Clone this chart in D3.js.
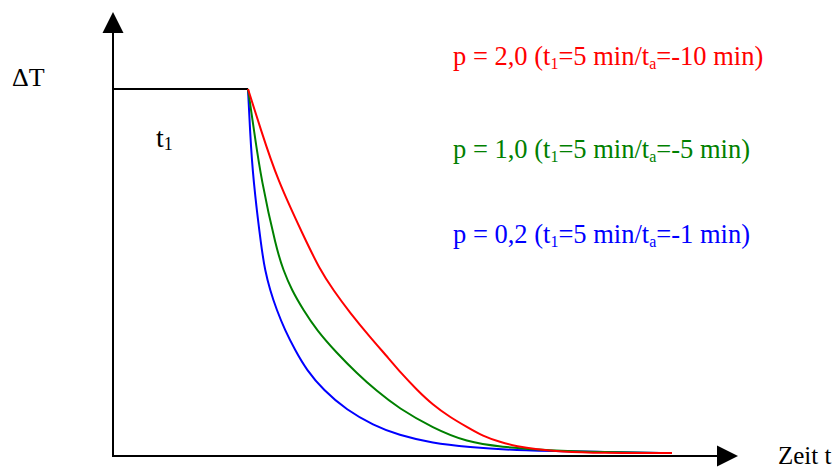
<!DOCTYPE html>
<html>
<head>
<meta charset="utf-8">
<script src="https://cdn.jsdelivr.net/npm/d3@7"></script>
<style>
  body { margin: 0; background: #fff; }
  svg { display: block; }
</style>
</head>
<body>
<div id="chart"></div>
<script>
// time in minutes, dT relative to the plateau (1 = full)
var stepT = [0, 5]
var stepV = [1, 1]

var redT = [5.000, 5.481, 6.074, 7.074, 7.667, 8.159, 8.778, 9.519, 10.259, 10.630, 11.259, 11.852, 12.481, 13.111, 13.704, 14.333, 14.963, 15.704, 16.556, 18.037, 20.704]
var redV = [1.000, 0.888, 0.755, 0.597, 0.507, 0.452, 0.390, 0.324, 0.262, 0.229, 0.180, 0.139, 0.106, 0.079, 0.054, 0.038, 0.026, 0.018, 0.012, 0.008, 0.008]

var greenT = [5.000, 5.222, 5.481, 6.063, 6.307, 6.619, 7.048, 7.544, 8.285, 9.026, 9.767, 10.567, 11.852, 13.111, 14.333, 16.185, 18.037, 20.704]
var greenV = [1.000, 0.888, 0.755, 0.561, 0.507, 0.452, 0.398, 0.343, 0.281, 0.226, 0.177, 0.131, 0.076, 0.038, 0.025, 0.015, 0.011, 0.008]

var blueT = [5.000, 5.074, 5.185, 5.507, 5.630, 5.815, 6.063, 6.370, 6.741, 7.174, 7.789, 8.656, 9.641, 10.567, 11.852, 13.111, 15.074, 18.407, 20.704]
var blueV = [1.000, 0.888, 0.755, 0.561, 0.507, 0.452, 0.398, 0.343, 0.289, 0.234, 0.180, 0.125, 0.084, 0.057, 0.035, 0.025, 0.014, 0.011, 0.008]

var labels = [
  {p: "2,0", ta: "-10", color: "#ff0000"},
  {p: "1,0", ta: "-5", color: "#008000"},
  {p: "0,2", ta: "-1", color: "#0000ff"}
]

var width = 838
var height = 468
var font = "'Liberation Serif', 'Times New Roman', serif"

var x = d3.scaleLinear().domain([0, 23.15]).range([113, 738])
var y = d3.scaleLinear().domain([0, 1]).range([456, 89])

var svg = d3.select("#chart").append("svg")
  .attr("width", width)
  .attr("height", height)

function zip(ts, vs) {
  return ts.map(function(t, i) { return [t, vs[i]] })
}

var line = d3.line()
  .x(function(d) { return x(d[0]) })
  .y(function(d) { return y(d[1]) })

// basis smooths out small reading errors in the points
var curve = d3.line()
  .curve(d3.curveBasis)
  .x(function(d) { return x(d[0]) })
  .y(function(d) { return y(d[1]) })

// axes with arrow heads
var yTop = 1.21
svg.append("line")
  .attr("x1", x(0)).attr("y1", y(0))
  .attr("x2", x(0)).attr("y2", y(yTop) + 10)
  .attr("stroke", "#000").attr("stroke-width", 2)
svg.append("path")
  .attr("d", "M" + x(0) + "," + y(yTop) + "l-10.5,21h21z")
  .attr("fill", "#000")

svg.append("line")
  .attr("x1", x(0) - 1).attr("y1", y(0))
  .attr("x2", x(23.15) - 10).attr("y2", y(0))
  .attr("stroke", "#000").attr("stroke-width", 2)
svg.append("path")
  .attr("d", "M" + x(23.15) + "," + y(0) + "l-21,-10.5v21z")
  .attr("fill", "#000")

svg.append("path")
  .attr("d", line(zip(stepT, stepV)))
  .attr("fill", "none").attr("stroke", "#000").attr("stroke-width", 2)

var series = [[redT, redV, "#ff0000"], [greenT, greenV, "#008000"], [blueT, blueV, "#0000ff"]]
series.slice().reverse().forEach(function(s) {
  svg.append("path")
    .attr("d", curve(zip(s[0], s[1])))
    .attr("fill", "none")
    .attr("stroke", s[2])
    .attr("stroke-width", 2)
})

// texts
svg.append("text")
  .attr("x", 12).attr("y", 86)
  .attr("font-family", font).attr("font-size", 26)
  .text("\u0394T")

var t1 = svg.append("text")
  .attr("x", 156).attr("y", 147)
  .attr("font-family", font).attr("font-size", 28)
t1.append("tspan").text("t")
t1.append("tspan").attr("font-size", 18).attr("dy", 3).text("1")

svg.append("text")
  .attr("x", 778).attr("y", 464)
  .attr("font-family", font).attr("font-size", 25)
  .text("Zeit t")

var labelY = [65, 158, 243]
labels.forEach(function(d, i) {
  var t = svg.append("text")
    .attr("x", 453).attr("y", labelY[i])
    .attr("font-family", font).attr("font-size", 26.5)
    .attr("fill", d.color)
  t.append("tspan").text("p = " + d.p + " (t")
  t.append("tspan").attr("font-size", 16).attr("dy", 4).text("1")
  t.append("tspan").attr("dy", -4).text("=5 min/t")
  t.append("tspan").attr("font-size", 16).attr("dy", 4).text("a")
  t.append("tspan").attr("dy", -4).text("=" + d.ta + " min)")
})
</script>
</body>
</html>
